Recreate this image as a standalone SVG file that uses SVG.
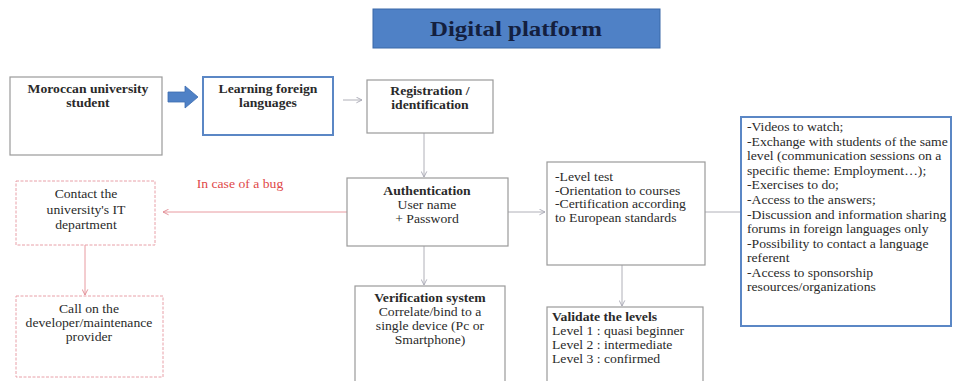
<svg xmlns="http://www.w3.org/2000/svg" width="957" height="381" viewBox="0 0 957 381">
  <style>
    text { font-family: "Liberation Serif", "Times New Roman", serif; fill: #2a2a2a; font-size: 12px;
           transform-box: fill-box; transform: scaleX(1.14); transform-origin: left center; }
    .b { font-weight: bold; }
    .c { text-anchor: middle; transform-origin: center center; }
    .box { fill: #ffffff; stroke: #9a9a9a; stroke-width: 1.2; }
    .bug { fill: #ffffff; stroke: #e8a0a8; stroke-width: 1; stroke-dasharray: 3 1.5; }
    .blue { fill: #ffffff; stroke: #5b87c5; stroke-width: 2; }
    .link { fill: none; stroke: #b0b0b8; stroke-width: 1; }
    .red { fill: none; stroke: #e89aa0; stroke-width: 1; }
    #title text { transform: none; }
  </style>
  <defs>
    <marker id="arr" viewBox="0 0 10 10" refX="9" refY="5" markerWidth="7" markerHeight="7" orient="auto">
      <path d="M1,1 L9,5 L1,9" fill="none" stroke="#a8a8b4" stroke-width="1.3"/>
    </marker>
    <marker id="arrRed" viewBox="0 0 10 10" refX="9" refY="5" markerWidth="7" markerHeight="7" orient="auto">
      <path d="M1,1 L9,5 L1,9" fill="none" stroke="#e08a92" stroke-width="1.3"/>
    </marker>
  </defs>

  <rect width="957" height="381" fill="#ffffff"/>

  <!-- title banner -->
  <g id="title">
    <rect x="373" y="9" width="287" height="39" fill="#4f81c6" stroke="#3a68a8" stroke-width="1"/>
    <text x="516" y="36" class="c b" style="font-size:21px; fill:#14203f;" textLength="172" lengthAdjust="spacingAndGlyphs">Digital platform</text>
  </g>

  <!-- connectors -->
  <g id="connectors">
    <!-- block arrow student -> learning -->
    <path d="M168,92 L185,92 L185,86 L198,97 L185,108 L185,102 L168,102 Z" fill="#4f81c6" stroke="#3d6db0" stroke-width="0.8"/>
    <line x1="343" y1="100" x2="362" y2="100" class="link" marker-end="url(#arr)"/>
    <line x1="424" y1="133" x2="424" y2="177" class="link" marker-end="url(#arr)"/>
    <line x1="424" y1="246" x2="424" y2="285" class="link" marker-end="url(#arr)"/>
    <line x1="508" y1="212" x2="545" y2="212" class="link" marker-end="url(#arr)"/>
    <line x1="622" y1="265" x2="622" y2="306" class="link" marker-end="url(#arr)"/>
    <line x1="705" y1="212" x2="741" y2="212" class="link"/>
    <line x1="347" y1="212" x2="163" y2="212" class="red" marker-end="url(#arrRed)"/>
    <text x="240" y="188" class="c" style="fill:#e04848;">In case of a bug</text>
    <line x1="85" y1="245" x2="85" y2="295" class="red" marker-end="url(#arrRed)"/>
  </g>

  <g id="student">
    <rect x="10" y="77" width="152" height="78" class="box"/>
    <text x="88" y="93" class="c b">Moroccan university</text>
    <text x="88" y="107" class="c b">student</text>
  </g>

  <g id="learning">
    <rect x="203" y="77" width="130" height="58" class="blue"/>
    <text x="268" y="93" class="c b">Learning foreign</text>
    <text x="268" y="107" class="c b">languages</text>
  </g>

  <g id="registration">
    <rect x="367" y="80" width="126" height="53" class="box"/>
    <text x="430" y="95" class="c b">Registration /</text>
    <text x="430" y="109" class="c b">identification</text>
  </g>

  <g id="authentication">
    <rect x="347" y="178" width="161" height="68" class="box"/>
    <text x="427" y="195" class="c b">Authentication</text>
    <text x="427" y="209" class="c">User name</text>
    <text x="427" y="223" class="c">+ Password</text>
  </g>

  <g id="it-department">
    <rect x="16" y="181" width="139" height="64" class="bug"/>
    <text x="86" y="198" class="c">Contact the</text>
    <text x="86" y="214" class="c">university's IT</text>
    <text x="86" y="229" class="c">department</text>
  </g>

  <g id="maintenance">
    <rect x="16" y="296" width="147" height="81" class="bug"/>
    <text x="89" y="313" class="c">Call on the</text>
    <text x="89" y="327" class="c">developer/maintenance</text>
    <text x="89" y="341" class="c">provider</text>
  </g>

  <g id="verification">
    <rect x="355" y="286" width="150" height="100" class="box"/>
    <text x="430" y="302" class="c b">Verification system</text>
    <text x="430" y="316" class="c">Correlate/bind to a</text>
    <text x="430" y="330" class="c">single device (Pc or</text>
    <text x="430" y="344" class="c">Smartphone)</text>
  </g>

  <g id="level-test">
    <rect x="547" y="162" width="158" height="103" class="box"/>
    <text x="555" y="181">-Level test</text>
    <text x="555" y="195">-Orientation to courses</text>
    <text x="555" y="208">-Certification according</text>
    <text x="555" y="222">to European standards</text>
  </g>

  <g id="validate">
    <rect x="547" y="307" width="156" height="80" class="box"/>
    <text x="552" y="321" class="b">Validate the levels</text>
    <text x="552" y="335">Level 1 : quasi beginner</text>
    <text x="552" y="349">Level 2 : intermediate</text>
    <text x="552" y="363">Level 3 : confirmed</text>
  </g>

  <g id="activities">
    <rect x="741" y="117" width="210" height="209" class="blue"/>
    <text x="747" y="131">-Videos to watch;</text>
    <text x="747" y="146">-Exchange with students of the same</text>
    <text x="747" y="160">level (communication sessions on a</text>
    <text x="747" y="175">specific theme: Employment…);</text>
    <text x="747" y="189">-Exercises to do;</text>
    <text x="747" y="204">-Access to the answers;</text>
    <text x="747" y="219">-Discussion and information sharing</text>
    <text x="747" y="233">forums in foreign languages only</text>
    <text x="747" y="248">-Possibility to contact a language</text>
    <text x="747" y="262">referent</text>
    <text x="747" y="277">-Access to sponsorship</text>
    <text x="747" y="291">resources/organizations</text>
  </g>
</svg>
